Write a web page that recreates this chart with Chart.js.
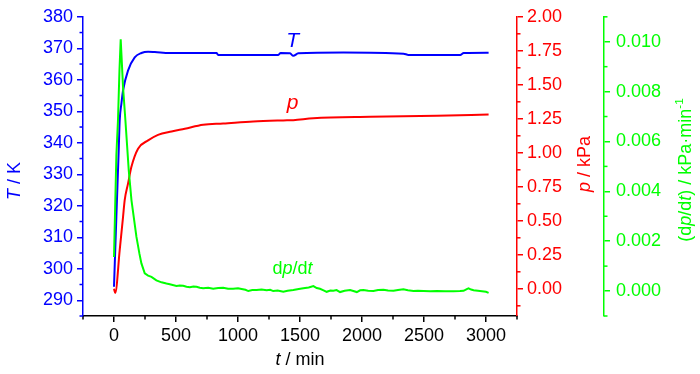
<!DOCTYPE html>
<html lang="en">
<head>
<meta charset="UTF-8">
<title>T, p and dp/dt against t</title>
<script src="https://cdn.jsdelivr.net/npm/chart.js@4.4.1/dist/chart.umd.min.js"></script>
<style>
    html, body { margin: 0; padding: 0; background: #fff; }
</style>
</head>
<body>
<canvas id="chart" width="700" height="374"></canvas>
<script>
// values
var timeT = [0, 19, 38, 46, 60, 73, 113, 167, 221, 275, 329, 450, 827, 840, 1325, 1344, 1419, 1446, 1486, 1850, 2335, 2375, 2792, 2820, 3021];
var tempT = [294.3, 316.4, 337.6, 347.1, 352.5, 356.6, 362.9, 367.1, 368.5, 368.9, 368.8, 368.5, 368.5, 367.9, 367.9, 368.5, 368.4, 367.6, 368.4, 368.7, 368.3, 367.9, 367.9, 368.5, 368.6];

var timeP = [0, 10, 46, 73, 86, 113, 140, 194, 275, 355, 464, 571, 719, 880, 1123, 1365, 1446, 1607, 2065, 2604, 3021];
var pressP = [0.00, -0.03, 0.284, 0.529, 0.651, 0.773, 0.895, 1.030, 1.091, 1.132, 1.157, 1.177, 1.206, 1.215, 1.230, 1.238, 1.240, 1.254, 1.265, 1.272, 1.282];

var timeG = [0, 19, 32, 44, 54, 73, 92, 119, 141, 181, 205, 221, 248, 275, 302, 342, 383, 423, 450, 504, 530, 558, 585, 612, 640, 665, 692, 719, 760, 800, 840, 881, 920, 961, 1000, 1029, 1060, 1083, 1115, 1150, 1190, 1231, 1260, 1284, 1320, 1365, 1400, 1446, 1490, 1527, 1570, 1608, 1635, 1661, 1690, 1715, 1745, 1769, 1795, 1823, 1860, 1904, 1930, 1958, 1985, 2011, 2050, 2092, 2130, 2173, 2210, 2254, 2290, 2334, 2370, 2415, 2450, 2496, 2550, 2604, 2670, 2738, 2790, 2819, 2845, 2859, 2880, 2900, 2935, 2967, 3000, 3021];
var rateG = [0.00137, 0.00544, 0.00684, 0.00884, 0.0101, 0.00817, 0.00684, 0.00484, 0.00364, 0.00217, 0.0015, 0.00111, 0.00071, 0.00062, 0.00057, 0.00043, 0.00035, 0.0003, 0.00027, 0.00020, 0.00022, 0.00021, 0.00017, 0.00015, 0.00018, 0.00017, 0.00013, 0.00011, 0.00013, 0.00009, 0.00012, 0.00013, 0.00009, 0.00009, 0.00011, 0.00008, 0.00005, 0.00000, 0.00004, 0.00004, 0.00006, 0.00003, 0.00005, 0.00000, 0.00002, -0.00003, 0.00001, 0.00004, 0.00008, 0.00011, 0.00014, 0.00020, 0.00012, 0.00009, 0.00003, -0.00003, 0.00002, 0.00001, 0.00004, -0.00004, 0.00001, 0.00004, 0.00000, -0.00004, 0.00003, 0.00004, 0.00001, 0.00000, 0.00004, 0.00005, 0.00002, 0.00001, 0.00004, 0.00007, 0.00003, 0.00000, 0.00001, 0.00000, -0.00001, 0.00000, -0.00001, -0.00001, 0.00000, 0.00001, 0.00008, 0.00011, 0.00006, 0.00003, 0.00001, -0.00001, -0.00003, -0.00007];

// axis ticks
var xTicks = [0, 500, 1000, 1500, 2000, 2500, 3000];
var xMinor = [-250, 250, 750, 1250, 1750, 2250, 2750, 3250];
var TTicks = [290, 300, 310, 320, 330, 340, 350, 360, 370, 380];
var TMinor = [285, 295, 305, 315, 325, 335, 345, 355, 365, 375];
var pTicks = [0, 0.25, 0.5, 0.75, 1.0, 1.25, 1.5, 1.75, 2.0];
var pMinor = [-0.125, 0.125, 0.375, 0.625, 0.875, 1.125, 1.375, 1.625, 1.875];
var gTicks = [0, 0.002, 0.004, 0.006, 0.008, 0.010];
var gMinor = [-0.001, 0.001, 0.003, 0.005, 0.007, 0.009, 0.011];

// curve labels (centre time, value on own axis)
var labelTime = 1440;
var labelTVal = 370.3;
var labelPVal = 1.325;
var labelGVal = 0.00067;

var BLUE = '#0000ff', RED = '#ff0000', GREEN = '#00ff00';
var FONT = "'Liberation Sans', Arial, Helvetica, sans-serif";

Chart.defaults.font.family = FONT;
Chart.defaults.font.size = 18;

function pts(xs, ys) {
    return xs.map(function (x, i) { return {x: x, y: ys[i]}; });
}

// text made of pieces, some italic, some raised
function richText(ctx, parts, x, y, size, color, align) {
    var w = 0;
    parts.forEach(function (p) {
        ctx.font = (p.it ? 'italic ' : '') + (p.sup ? size * 0.65 : size) + 'px ' + FONT;
        p.w = ctx.measureText(p.t).width;
        w += p.w;
    });
    var cx = align === 'center' ? x - w / 2 : x;
    ctx.fillStyle = color;
    ctx.textBaseline = 'alphabetic';
    ctx.textAlign = 'left';
    parts.forEach(function (p) {
        ctx.font = (p.it ? 'italic ' : '') + (p.sup ? size * 0.65 : size) + 'px ' + FONT;
        ctx.fillText(p.t, cx, p.sup ? y - size * 0.42 : y);
        cx += p.w;
    });
}

function rotatedText(ctx, parts, x, y, size, color) {
    ctx.save();
    ctx.translate(x, y);
    ctx.rotate(-Math.PI / 2);
    richText(ctx, parts, 0, 0, size, color, 'center');
    ctx.restore();
}

var minorTicks = {
    id: 'minorTicks',
    afterDraw: function (chart) {
        var ctx = chart.ctx;
        var list = [['x', xMinor, '#000'], ['yT', TMinor, BLUE], ['yP', pMinor, RED], ['yG', gMinor, GREEN]];
        ctx.save();
        ctx.lineWidth = 1.5;
        list.forEach(function (l) {
            var s = chart.scales[l[0]];
            ctx.strokeStyle = l[2];
            l[1].forEach(function (v) {
                var p = s.getPixelForValue(v);
                ctx.beginPath();
                if (s.position === 'bottom') {
                    ctx.moveTo(p, s.top); ctx.lineTo(p, s.top + 3.5);
                } else if (s.position === 'left') {
                    ctx.moveTo(s.right, p); ctx.lineTo(s.right - 3.5, p);
                } else {
                    ctx.moveTo(s.left, p); ctx.lineTo(s.left + 3.5, p);
                }
                ctx.stroke();
            });
        });
        ctx.restore();
    }
};

var titles = {
    id: 'titles',
    afterDraw: function (chart) {
        var ctx = chart.ctx;
        var sx = chart.scales.x, sT = chart.scales.yT, sP = chart.scales.yP, sG = chart.scales.yG;
        ctx.save();
        // axis titles
        richText(ctx, [{t: 't', it: true}, {t: ' / min'}], (sx.left + sx.right) / 2, sx.top + 49, 18, '#000', 'center');
        rotatedText(ctx, [{t: 'T', it: true}, {t: ' / K'}], sT.left + 20, 181, 18, BLUE);
        rotatedText(ctx, [{t: 'p', it: true}, {t: ' / kPa'}], sP.left + 73, 164, 18, RED);
        rotatedText(ctx, [{t: '(d'}, {t: 'p', it: true}, {t: '/d'}, {t: 't', it: true}, {t: ') / kPa\u00b7min'}, {t: '-1', sup: true}],
            sG.left + 87, 170, 18, GREEN);
        // curve labels
        var lx = sx.getPixelForValue(labelTime);
        richText(ctx, [{t: 'T', it: true}], lx, sT.getPixelForValue(labelTVal), 21, BLUE, 'center');
        richText(ctx, [{t: 'p', it: true}], lx, sP.getPixelForValue(labelPVal), 21, RED, 'center');
        richText(ctx, [{t: 'd'}, {t: 'p', it: true}, {t: '/d'}, {t: 't', it: true}], lx, sG.getPixelForValue(labelGVal), 18, GREEN, 'center');
        ctx.restore();
    }
};

function axis(color, width, major, fmt, pad, weight, pos, min, max) {
    return {
        type: 'linear',
        position: pos,
        min: min,
        max: max,
        weight: weight,
        afterBuildTicks: function (s) { s.ticks = major.map(function (v) { return {value: v}; }); },
        afterFit: function (s) {
            if (pos === 'bottom') s.height = width; else s.width = width;
        },
        ticks: {
            color: color,
            padding: pad,
            autoSkip: false,
            maxRotation: 0,
            callback: fmt
        },
        grid: {
            display: true,
            drawOnChartArea: false,
            drawTicks: true,
            tickLength: 6,
            color: color,
            lineWidth: 1.5
        },
        border: {display: true, color: color, width: 1.5}
    };
}

new Chart(document.getElementById('chart'), {
    type: 'line',
    data: {
        datasets: [
            {label: 'T', yAxisID: 'yT', data: pts(timeT, tempT), borderColor: BLUE, borderWidth: 2,
             pointRadius: 0, cubicInterpolationMode: 'monotone', order: 2},
            {label: 'p', yAxisID: 'yP', data: pts(timeP, pressP), borderColor: RED, borderWidth: 2,
             pointRadius: 0, cubicInterpolationMode: 'monotone', order: 1},
            {label: 'dp/dt', yAxisID: 'yG', data: pts(timeG, rateG), borderColor: GREEN, borderWidth: 2,
             pointRadius: 0, tension: 0, order: 0}
        ]
    },
    options: {
        responsive: false,
        animation: false,
        layout: {padding: {top: 16, left: 0, right: 0, bottom: 0}},
        plugins: {legend: {display: false}, tooltip: {enabled: false}},
        scales: {
            x: axis('#000', 58, xTicks, function (v) { return v; }, 3, 0, 'bottom', -250, 3250),
            yT: axis(BLUE, 83, TTicks, function (v) { return v; }, 4, 0, 'left', 285, 380),
            yP: axis(RED, 87, pTicks, function (v) { return v.toFixed(2); }, 4, 0, 'right', -0.2, 2.0),
            yG: axis(GREEN, 96, gTicks, function (v) { return v.toFixed(3); }, 6, 1, 'right', -0.001, 0.011)
        }
    },
    plugins: [minorTicks, titles]
});
</script>
</body>
</html>
